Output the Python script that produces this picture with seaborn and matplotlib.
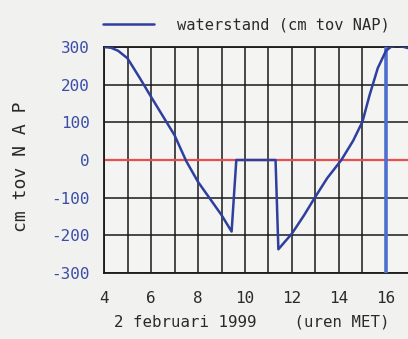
import matplotlib
matplotlib.use("Agg")
import matplotlib.pyplot as plt
import seaborn as sns
import pandas as pd
import numpy as np

# Data (hours on 2 Feb 1999, water level in cm relative to NAP)
hours = [4.0, 4.3, 4.6, 5.0, 5.5, 6.0, 6.5, 7.0, 7.5, 8.0, 8.5, 9.0, 9.43,
         9.63, 11.3, 11.42, 12.0, 12.5, 12.95, 13.5, 14.1, 14.6, 15.0,
         15.3, 15.65, 16.0, 16.2, 16.45, 16.7, 16.95]
level = [300, 298, 290, 270, 220, 168, 117, 66, -3, -58, -102, -146, -190,
         0, 0, -237, -195, -148, -102, -48, 0, 51, 102,
         172, 244, 290, 300, 303, 301, 297]
now_hour = 16
x_ticks = [4, 6, 8, 10, 12, 14, 16]
y_ticks = [-300, -200, -100, 0, 100, 200, 300]
series_label = "waterstand (cm tov NAP)"
x_label = "2 februari 1999    (uren MET)"
y_label = "cm tov N A P"

df = pd.DataFrame({"uur": hours, "cm": level})

sns.set_theme(style="white")
plt.rcParams["font.family"] = ["DejaVu Sans Mono", "DejaVu Sans"]
plt.rcParams["axes.unicode_minus"] = False

bg = "#f1f1ef"
W, H = 408, 339
fig = plt.figure(figsize=(W / 100, H / 100), dpi=100, facecolor=bg)
ax = fig.add_axes([104 / W, 66 / H, (W - 104) / W, 226 / H])
ax.set_facecolor("#f4f4f2")

# reference lines
ax.axhline(0, color="#e8504f", lw=1.6, zorder=2)
ax.axvline(now_hour, color="#4d6fcf", lw=2.6, zorder=3)

sns.lineplot(data=df, x="uur", y="cm", ax=ax, color="#2e3f9e", lw=1.8,
             label=series_label, zorder=4, legend=False)

ax.set_xlim(4, 4 + (W - 104) / 23.5)
ax.set_ylim(-300, 300)
ax.set_xticks(x_ticks)
ax.set_xticks(np.arange(4, 17, 1), minor=True)
ax.set_yticks(y_ticks)
ax.grid(True, which="both", color="#1a1a1a", lw=1.1, zorder=1)
ax.set_axisbelow(True)

for s in ["left", "bottom", "top"]:
    ax.spines[s].set_visible(True)
    ax.spines[s].set_color("#1a1a1a")
    ax.spines[s].set_linewidth(1.3)
ax.spines["right"].set_visible(False)

ax.tick_params(axis="both", which="both", length=0)
ax.tick_params(axis="y", pad=10, labelsize=11.5, labelcolor="#3a4ea8")
ax.tick_params(axis="x", pad=13, labelsize=11.5, labelcolor="#2a2a2a")

ax.set_xlabel(x_label, fontsize=11.3, color="#2a2a2a")
ax.xaxis.set_label_coords(0.487, -0.184)
ax.set_ylabel(y_label, fontsize=13, color="#2a2a2a")
ax.yaxis.set_label_coords(-0.245, 0.47)

handles, labels = ax.get_legend_handles_labels()
fig.legend(handles, labels, loc="center left",
           bbox_to_anchor=(103 / W, 314 / H), bbox_transform=fig.transFigure,
           frameon=False, borderpad=0, borderaxespad=0, handlelength=3.3,
           handletextpad=1.5, fontsize=11.1, labelcolor="#2a2a2a")

fig.savefig("out.png", dpi=100, facecolor=bg)
